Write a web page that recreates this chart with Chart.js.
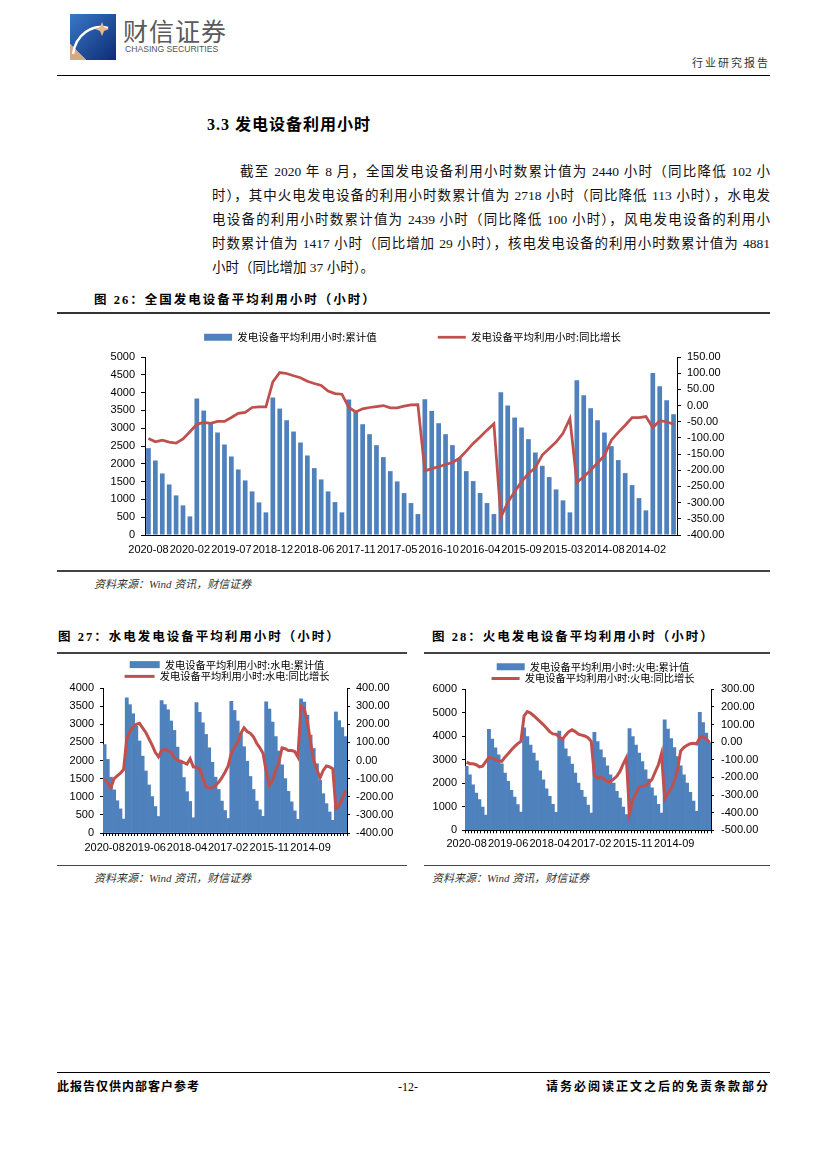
<!DOCTYPE html>
<html>
<head>
<meta charset="utf-8">
<script src="https://cdn.jsdelivr.net/npm/chart.js@4.4.0/dist/chart.umd.min.js"></script>
<style>
    body { margin: 0; background: #fff; }
    #page { position: relative; width: 827px; height: 1170px; overflow: hidden; font-family: 'Liberation Serif', 'Noto Sans CJK SC', serif; color: #000; }
    .abs { position: absolute; white-space: nowrap; }
    .rule { position: absolute; height: 0; border-top: 1px solid #000; }
    .para { position: absolute; font-size: 13.5px; line-height: 18px; text-align: justify; text-align-last: justify; color: #111; }
    .figtitle { position: absolute; white-space: nowrap; font-size: 12.5px; font-weight: bold; letter-spacing: 2px; line-height: 16px; }
    .source { position: absolute; white-space: nowrap; font-size: 11px; font-style: italic; color: #333; line-height: 14px; }
    canvas { position: absolute; }
</style>
</head>
<body>
<div id="page">
    <!-- header -->
    <svg class="abs" style="left:70px;top:14px" width="46" height="46" viewBox="0 0 46 46">
        <defs>
            <linearGradient id="lg" x1="0" y1="0" x2="1" y2="1">
                <stop offset="0" stop-color="#3a78c8"/>
                <stop offset="1" stop-color="#0c2c74"/>
            </linearGradient>
        </defs>
        <path d="M0 0 H46 V46 H16 L0 30 Z" fill="url(#lg)"/>
        <path d="M0 30 L0 46 L16 46 Z" fill="#d7a982"/>
        <path d="M3 40 C 6 20, 22 10, 38 14" stroke="#fff" stroke-width="2.5" fill="none"/>
        <path d="M32 8 L34 13 L39 15 L34 17 L32 22 L30 17 L25 15 L30 13 Z" fill="#e9b98c"/>
    </svg>
    <div class="abs" style="left:123px;top:14px;font-family:'Noto Sans CJK SC';font-size:25px;letter-spacing:1px;color:#5a5a5a;line-height:32px">财信证券</div>
    <div class="abs" style="left:125px;top:44px;font-family:'Liberation Sans';font-size:8.6px;color:#555;line-height:10px">CHASING SECURITIES</div>
    <div class="abs" style="right:57px;top:54px;font-family:'Noto Sans CJK SC';font-size:11px;letter-spacing:2px;color:#333;line-height:16px">行业研究报告</div>
    <div class="rule" style="left:57px;width:713px;top:75px"></div>

    <!-- section text -->
    <div class="abs" style="left:207px;top:115px;font-size:16px;font-weight:bold;letter-spacing:1px;line-height:20px">3.3 发电设备利用小时</div>
    <div class="para" style="left:240px;width:530px;top:163px">截至 2020 年 8 月，全国发电设备利用小时数累计值为 2440 小时（同比降低 102 小</div>
    <div class="para" style="left:212px;width:558px;top:187px">时），其中火电发电设备的利用小时数累计值为 2718 小时（同比降低 113 小时），水电发</div>
    <div class="para" style="left:212px;width:558px;top:211px">电设备的利用小时数累计值为 2439 小时（同比降低 100 小时），风电发电设备的利用小</div>
    <div class="para" style="left:212px;width:558px;top:235px">时数累计值为 1417 小时（同比增加 29 小时），核电发电设备的利用小时数累计值为 4881</div>
    <div class="para" style="left:212px;top:259px;text-align:left;text-align-last:auto;white-space:nowrap">小时（同比增加 37 小时）。</div>

    <!-- figure 26 -->
    <div class="figtitle" style="left:94px;top:292px">图 26：全国发电设备平均利用小时（小时）</div>
    <div class="rule" style="left:57px;width:713px;top:312px;border-top:2px solid #333"></div>
    <canvas id="totalChart" width="635" height="289" style="left:95px;top:271px"></canvas>
    <div class="rule" style="left:57px;width:713px;top:570px;border-top:2px solid #444"></div>
    <div class="source" style="left:94px;top:577px">资料来源：Wind 资讯，财信证券</div>

    <!-- figures 27 / 28 -->
    <div class="figtitle" style="left:58px;top:629px">图 27：水电发电设备平均利用小时（小时）</div>
    <div class="figtitle" style="left:432px;top:629px">图 28：火电发电设备平均利用小时（小时）</div>
    <div class="rule" style="left:57px;width:350px;top:652px;border-top:2px solid #444"></div>
    <div class="rule" style="left:424px;width:346px;top:652px;border-top:2px solid #444"></div>
    <canvas id="hydroChart" width="344" height="198" style="left:55px;top:658px"></canvas>
    <canvas id="thermalChart" width="338" height="193" style="left:424px;top:660px"></canvas>
    <div class="rule" style="left:57px;width:350px;top:865px;border-top:1px solid #444"></div>
    <div class="rule" style="left:424px;width:346px;top:865px;border-top:1px solid #444"></div>
    <div class="source" style="left:94px;top:871px">资料来源：Wind 资讯，财信证券</div>
    <div class="source" style="left:432px;top:871px">资料来源：Wind 资讯，财信证券</div>

    <!-- footer -->
    <div class="rule" style="left:57px;width:713px;top:1072px"></div>
    <div class="abs" style="left:57px;top:1079px;font-size:12px;font-weight:bold;letter-spacing:1px;line-height:16px">此报告仅供内部客户参考</div>
    <div class="abs" style="left:398px;top:1079px;font-size:12px;line-height:16px">-12-</div>
    <div class="abs" style="right:57px;top:1079px;font-size:12px;font-weight:bold;letter-spacing:2px;line-height:16px">请务必阅读正文之后的免责条款部分</div>
</div>

<script>
    // months, newest first (January is merged into February in the source data)
    const months = [
        '2020-08', '2020-07', '2020-06', '2020-05', '2020-04', '2020-03', '2020-02',
        '2019-12', '2019-11', '2019-10', '2019-09', '2019-08', '2019-07', '2019-06', '2019-05', '2019-04', '2019-03', '2019-02',
        '2018-12', '2018-11', '2018-10', '2018-09', '2018-08', '2018-07', '2018-06', '2018-05', '2018-04', '2018-03', '2018-02',
        '2017-12', '2017-11', '2017-10', '2017-09', '2017-08', '2017-07', '2017-06', '2017-05', '2017-04', '2017-03', '2017-02',
        '2016-12', '2016-11', '2016-10', '2016-09', '2016-08', '2016-07', '2016-06', '2016-05', '2016-04', '2016-03', '2016-02',
        '2015-12', '2015-11', '2015-10', '2015-09', '2015-08', '2015-07', '2015-06', '2015-05', '2015-04', '2015-03', '2015-02',
        '2014-12', '2014-11', '2014-10', '2014-09', '2014-08', '2014-07', '2014-06', '2014-05', '2014-04', '2014-03', '2014-02',
        '2013-12', '2013-11', '2013-10', '2013-09'
    ];

    // all plants: cumulative hours / yoy change
    const totalHours = [
        2440, 2093, 1729, 1420, 1112, 832, 523,
        3832, 3495, 3160, 2879, 2542, 2206, 1841, 1533, 1224, 916, 636,
        3860, 3551, 3224, 2907, 2598, 2234, 1879, 1561, 1224, 925, 636,
        3804, 3480, 3112, 2832, 2523, 2187, 1794, 1505, 1178, 897, 589,
        3813, 3486, 3140, 2832, 2523, 2159, 1794, 1514, 1178, 897, 589,
        4009, 3636, 3299, 3019, 2692, 2318, 1944, 1626, 1280, 972, 636,
        4346, 3925, 3561, 3224, 2879, 2495, 2103, 1738, 1402, 1037, 692,
        4551, 4178, 3785, 3393
    ];
    const totalYoy = [
        -102, -112, -107, -113, -116, -103, -81,
        -58, -52, -55, -49, -49, -37, -24, -21, -6, -4, -4,
        73, 102, 99, 92, 86, 75, 68, 62, 45, 37, 35,
        -6, -20, -10, -6, -3, 0, -7, -7, -2, 2, 3,
        -202, -195, -189, -182, -176, -163, -141, -117, -97, -76, -56,
        -345, -300, -266, -235, -210, -192, -153, -133, -113, -86, -40,
        -237, -220, -200, -177, -154, -107, -83, -61, -37, -37, -34,
        -68, -47, -50, -58
    ];

    // hydro
    const hydroHours = [
        2439, 2030, 1540, 1190, 890, 665, 385,
        3726, 3540, 3290, 2950, 2539, 2120, 1710, 1325, 1005, 730, 455,
        3650, 3540, 3400, 3090, 2830, 2370, 2010, 1530, 1140, 870, 420,
        3600, 3330, 3040, 2720, 2350, 1950, 1540, 1200, 880, 620, 400,
        3630, 3380, 3090, 2750, 2380, 1980, 1560, 1200, 880, 640, 460,
        3620, 3420, 3060, 2660, 2260, 1880, 1500, 1150, 860, 610, 380,
        3700, 3610, 3250, 2700, 2330, 1910, 1450, 1085, 810, 580, 350,
        3340, 3100, 2910, 2660
    ];
    const hydroYoy = [
        -100, -125, -150, -100, -85, -70, -50,
        120, 160, 185, 200, 205, 180, 155, 120, 85, 45, 20,
        55, 62, 55, 45, 15, 2, -5, -12, -20, 10, -35,
        -38, -45, -95, -145, -152, -150, -138, -120, -95, -65, -30,
        40, 75, 100, 150, 180, 160, 150, 130, 95, 70, 40,
        -60, -137, -110, -55, -10, 70, 65, 55, 55, 50, 20,
        300, 285, 215, 100, 0, -50, -95, -55, -30, -35, -45,
        -265, -250, -210, -165
    ];

    // thermal
    const thermalHours = [
        2718, 2363, 1939, 1585, 1302, 990, 651,
        4293, 3877, 3509, 3212, 2831, 2434, 2080, 1698, 1415, 1090, 778,
        4361, 3990, 3622, 3283, 2957, 2533, 2151, 1769, 1443, 1104, 764,
        4219, 3934, 3467, 3141, 2816, 2434, 2009, 1698, 1415, 1075, 736,
        4165, 3778, 3424, 3099, 2745, 2363, 2009, 1656, 1373, 990, 665,
        4329, 3990, 3622, 3283, 2929, 2575, 2179, 1811, 1472, 1104, 736,
        4706, 4302, 3905, 3523, 3141, 2745, 2363, 2009, 1613, 1245, 806,
        5021, 4585, 4132, 3736
    ];
    const thermalYoy = [
        -113, -122, -123, -128, -140, -136, -110,
        -86, -92, -98, -106, -109, -85, -66, -45, -25, -8, 4,
        150, 173, 165, 150, 134, 117, 100, 80, 60, 47, 45,
        30, 17, 40, 60, 70, 60, 45, 40, 35, 25, 5,
        -190, -204, -198, -210, -223, -223, -210, -194, -166, -125, -88,
        -406, -330, -290, -255, -250, -248, -230, -213, -170, -130, -65,
        -320, -290, -265, -222, -160, -50, -30, -18, -9, -6, -10,
        25, 32, 20, -2
    ];

    const BLUE = '#4F81BD';
    const RED = '#C0504D';

    Chart.defaults.font.family = "'Liberation Sans', Arial, sans-serif";
    Chart.defaults.color = '#000';

    // keep the legend band a fixed height so the plot area lands where it should
    const legendHeight = h => ({
        id: 'legendHeight',
        beforeInit(chart) {
            if (!chart.legend) return;
            const fit = chart.legend.fit;
            chart.legend.fit = function () {
                fit.call(this);
                this.height = h;
            };
        }
    });

    function comboChart(canvasId, o) {
        return new Chart(document.getElementById(canvasId), {
            type: 'bar',
            data: {
                labels: months,
                datasets: [{
                    type: 'bar',
                    label: o.barLabel,
                    data: o.bars,
                    backgroundColor: BLUE,
                    borderWidth: 0,
                    categoryPercentage: 1,
                    barPercentage: o.barPct,
                    yAxisID: 'y',
                    order: 1
                }, {
                    type: 'line',
                    label: o.lineLabel,
                    data: o.line,
                    borderColor: RED,
                    backgroundColor: RED,
                    borderWidth: o.lineWidth,
                    pointRadius: 0,
                    tension: 0,
                    yAxisID: 'y1',
                    order: 0
                }]
            },
            options: {
                responsive: false,
                animation: false,
                events: [],
                layout: { padding: 0 },
                plugins: {
                    tooltip: { enabled: false },
                    legend: {
                        position: 'top',
                        labels: {
                            usePointStyle: true,
                            pointStyleWidth: o.boxW,
                            boxHeight: 7,
                            padding: o.legendPad,
                            color: '#000',
                            font: { family: "'Noto Sans CJK SC'", size: o.legendFont },
                            sort: (a, b) => a.datasetIndex - b.datasetIndex,
                            generateLabels: chart => Chart.defaults.plugins.legend.labels.generateLabels(chart).map(item => {
                                item.pointStyle = item.datasetIndex === 0 ? 'rect' : 'line';
                                return item;
                            })
                        }
                    }
                },
                scales: {
                    x: {
                        ticks: {
                            autoSkip: false,
                            maxRotation: 0,
                            minRotation: 0,
                            padding: o.xPad,
                            font: { size: 11 },
                            callback: (v, i) => i % o.labelStep === 0 ? months[i] : ''
                        },
                        grid: o.xTicks
                            ? { display: true, drawOnChartArea: false, drawTicks: true, tickLength: 3, color: '#000' }
                            : { display: false, drawTicks: false },
                        border: { color: '#000', width: 1 },
                        afterFit: s => { s.height = o.xHeight; }
                    },
                    y: {
                        position: 'left',
                        min: o.leftMin,
                        max: o.leftMax,
                        ticks: { stepSize: o.leftStep, autoSkip: false, padding: o.leftPad, font: { size: 11 }, callback: v => String(v) },
                        grid: { drawOnChartArea: false, tickLength: o.tick, color: '#000' },
                        border: { color: '#000', width: 1 },
                        afterFit: s => { s.width = o.leftWidth; }
                    },
                    y1: {
                        position: 'right',
                        min: o.rightMin,
                        max: o.rightMax,
                        ticks: { stepSize: o.rightStep, autoSkip: false, padding: o.rightPad, font: { size: 11 }, callback: v => v.toFixed(2) },
                        grid: { drawOnChartArea: false, tickLength: o.tick, color: '#000' },
                        border: { color: '#000', width: 1 },
                        afterFit: s => { s.width = o.rightWidth; }
                    }
                }
            },
            plugins: [legendHeight(o.legendHeight)]
        });
    }

    comboChart('totalChart', {
        barLabel: '发电设备平均利用小时:累计值',
        lineLabel: '发电设备平均利用小时:同比增长',
        bars: totalHours, line: totalYoy,
        barPct: 0.68, lineWidth: 2.75,
        boxW: 28, legendPad: 61, legendFont: 10.5, legendHeight: 86,
        labelStep: 6, xTicks: false, xPad: 8, xHeight: 25,
        leftMin: 0, leftMax: 5000, leftStep: 500, leftPad: 6, leftWidth: 50,
        rightMin: -400, rightMax: 150, rightStep: 50, rightPad: 6, rightWidth: 53,
        tick: 4
    });

    comboChart('hydroChart', {
        barLabel: '发电设备平均利用小时:水电:累计值',
        lineLabel: '发电设备平均利用小时:水电:同比增长',
        bars: hydroHours, line: hydroYoy,
        barPct: 1, lineWidth: 3,
        boxW: 30, legendPad: 1.5, legendFont: 10.25, legendHeight: 30,
        labelStep: 13, xTicks: true, xPad: 5, xHeight: 23,
        leftMin: 0, leftMax: 4000, leftStep: 500, leftPad: 6, leftWidth: 48,
        rightMin: -400, rightMax: 400, rightStep: 100, rightPad: 6, rightWidth: 52,
        tick: 3
    });

    comboChart('thermalChart', {
        barLabel: '发电设备平均利用小时:火电:累计值',
        lineLabel: '发电设备平均利用小时:火电:同比增长',
        bars: thermalHours, line: thermalYoy,
        barPct: 1, lineWidth: 3,
        boxW: 28, legendPad: 1.5, legendFont: 10.25, legendHeight: 29.3,
        labelStep: 13, xTicks: true, xPad: 4, xHeight: 22.7,
        leftMin: 0, leftMax: 6000, leftStep: 1000, leftPad: 5, leftWidth: 41,
        rightMin: -500, rightMax: 300, rightStep: 100, rightPad: 7, rightWidth: 51,
        tick: 3
    });
</script>
</body>
</html>
